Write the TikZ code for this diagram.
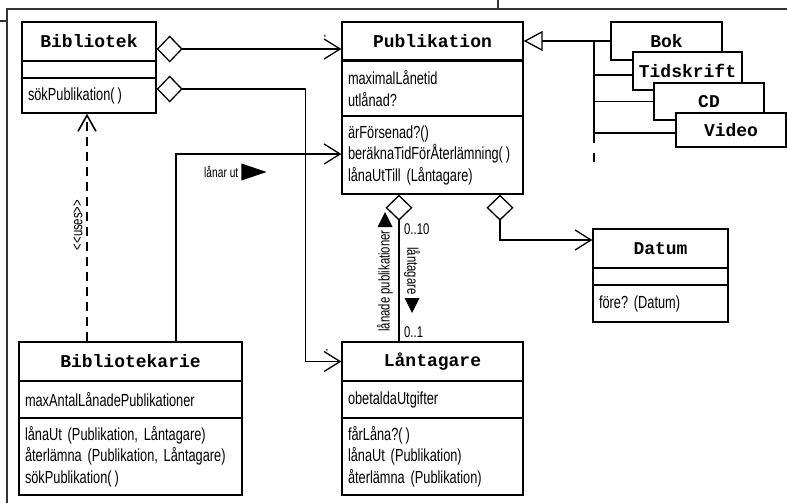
\documentclass[tikz,border=0pt]{standalone}
\usepackage{fontspec}
\newfontfamily\umlbody[FakeStretch=0.73]{Liberation Sans}
\newfontfamily\umlname{Liberation Mono}
\usetikzlibrary{arrows.meta}
\frenchspacing

\begin{document}
\begin{tikzpicture}[x=1pt,y=-1pt,
  clsname/.style={draw,line width=1.4pt,fill=white,inner sep=0pt,font=\umlname\bfseries\fontsize{18}{20}\selectfont},
  clspart/.style={draw,line width=1.4pt,fill=white,inner xsep=6pt,inner ysep=2pt,align=left,font=\umlbody\fontsize{17.5}{21.5}\selectfont},
  lbl/.style={font=\umlbody\fontsize{15.5}{17}\selectfont,inner sep=1pt},
  star/.style={font=\umlbody\fontsize{8}{8}\selectfont,inner sep=0pt},
  assoc/.style={line width=1.3pt},
  nav/.style={assoc,-{Straight Barb[length=16pt,width=20pt]}},
  agg/.style={assoc,{Diamond[open,length=26pt,width=27pt]}-{Straight Barb[length=16pt,width=20pt]}},
  comp/.style={assoc,{Diamond[open,length=26pt,width=27pt]}-},
  gen/.style={assoc,-{Triangle[open,length=19pt,width=20pt]}},
  uses/.style={line width=1.6pt,dash pattern=on 9pt off 6pt,-{Straight Barb[length=16pt,width=18pt]}},
  frame/.style={line width=1.1pt,black!80}]
\useasboundingbox (0,0) rectangle (787,503);

% page frame
\draw[frame] (7,503) -- (7,9) -- (787,9);
\draw[frame] (0,21) -- (7,21);
\draw[frame] (498,0) -- (498,9);

% Bibliotek
\node[clsname,minimum width=134pt,minimum height=39pt] (bib) at (89,41.5) {Bibliotek};
\node[clspart,minimum width=134pt,minimum height=17pt] (bibattr) at (89,69.5) {};
\node[clspart,minimum width=134pt,minimum height=35pt,text width=122pt] (bibops) at (89,95.5) {sökPublikation(\,)};

% Publikation
\node[clsname,minimum width=181pt,minimum height=38pt] (pub) at (432.5,41) {Publikation};
\node[clspart,minimum width=181pt,minimum height=55pt,text width=169pt] (pubattr) at (432.5,88.5) {maximalLånetid\\utlånad?};
\node[clspart,minimum width=181pt,minimum height=78pt,text width=169pt] (pubops) at (432.5,155) {ärFörsenad?()\\beräknaTidFörÅterlämning(\,)\\lånaUtTill (Låntagare)};

% subklasser
\node[clsname,minimum width=111pt,minimum height=38pt] (bok) at (666.5,41) {Bok};
\node[clsname,minimum width=109pt,minimum height=38pt] (tid) at (687.5,71) {Tidskrift};
\node[clsname,minimum width=110pt,minimum height=37pt] (cd) at (709,101.5) {CD};
\node[clsname,minimum width=110pt,minimum height=34pt] (video) at (731,130) {Video};

% Datum
\node[clsname,minimum width=135pt,minimum height=39pt] (dat) at (660.5,248.5) {Datum};
\node[clspart,minimum width=135pt,minimum height=17pt] (datattr) at (660.5,276.5) {};
\node[clspart,minimum width=135pt,minimum height=37pt,text width=123pt] (datops) at (660.5,303.5) {före? (Datum)};

% Låntagare
\node[clsname,minimum width=181pt,minimum height=39pt] (lan) at (432.5,361.5) {Låntagare};
\node[clspart,minimum width=181pt,minimum height=37pt,text width=169pt] (lanattr) at (432.5,399.5) {obetaldaUtgifter};
\node[clspart,minimum width=181pt,minimum height=77pt,text width=169pt] (lanops) at (432.5,456.5) {fårLåna?(\,)\\lånaUt (Publikation)\\återlämna (Publikation)};

% Bibliotekarie
\node[clsname,minimum width=223pt,minimum height=39pt] (bibk) at (130.5,361.5) {Bibliotekarie};
\node[clspart,minimum width=223pt,minimum height=37pt,text width=211pt] (bibkattr) at (130.5,399.5) {maxAntalLånadePublikationer};
\node[clspart,minimum width=223pt,minimum height=77pt,text width=211pt] (bibkops) at (130.5,456.5) {lånaUt (Publikation, Låntagare)\\återlämna (Publikation, Låntagare)\\sökPublikation(\,)};

% associationer
\draw[agg] ([yshift=-7.5pt]bib.east) -- ([yshift=-8pt]pub.west);
\draw[agg] ([yshift=6.5pt]bibops.east) -| ([xshift=-36pt]lan.west) -- (lan.west);
\draw[nav] ([xshift=45.5pt]bibk.north) |- ([yshift=1pt]pubops.west);
\draw[uses] ([xshift=-43.5pt]bibk.north) -- ([xshift=-43.5pt]bibk.north |- bibops.south);
\draw[comp] ([xshift=-33.5pt]pubops.south) -- ([xshift=-33.5pt]lan.north);
\draw[agg] ([xshift=67.5pt]pubops.south) |- ([yshift=8.5pt]dat.west);
\node[star] (st1) at (325,38) {*};
\node[star] (st2) at (327,352) {*};

% arv
\draw[gen] (bok.west) -- (pub.east);
\coordinate (trk) at (594,41);
\coordinate (trkend) at (594,162);
\draw[assoc,dash pattern=on 102pt off 10pt on 9pt off 20pt] (trk) -- (trkend);
\draw[assoc] ([yshift=-4pt]tid.west) -- ([yshift=-4pt]tid.west -| trk);
\draw[assoc] (cd.west) -- (cd.west -| trk);
\draw[assoc] ([yshift=-3pt]video.west) -- ([yshift=-3pt]video.west -| trk);

% roller och multipliciteter
\node[lbl,rotate=90] (useslbl) at (78,225) {<{}<uses>{}>};
\node[lbl,anchor=west,font=\umlbody\fontsize{14}{15}\selectfont] (lanut) at (203,172) {lånar ut};
\fill ([xshift=2pt]lanut.east) ++(0,-8.5) -- ++(25,8.5) -- ++(-25,8.5) -- cycle;
\node[lbl,anchor=west] (m10) at (403,229) {0..10};
\node[lbl,anchor=west] (m1) at (403,332) {0..1};
\node[lbl,rotate=90] (lanpub) at (385,281) {lånade publikationer};
\fill (377.5,227) -- (385,212) -- (392.5,227) -- cycle;
\node[lbl,rotate=-90] (lantag) at (412,271) {låntagare};
\fill (404.5,298) -- (412,313) -- (419.5,298) -- cycle;
\end{tikzpicture}
\end{document}
